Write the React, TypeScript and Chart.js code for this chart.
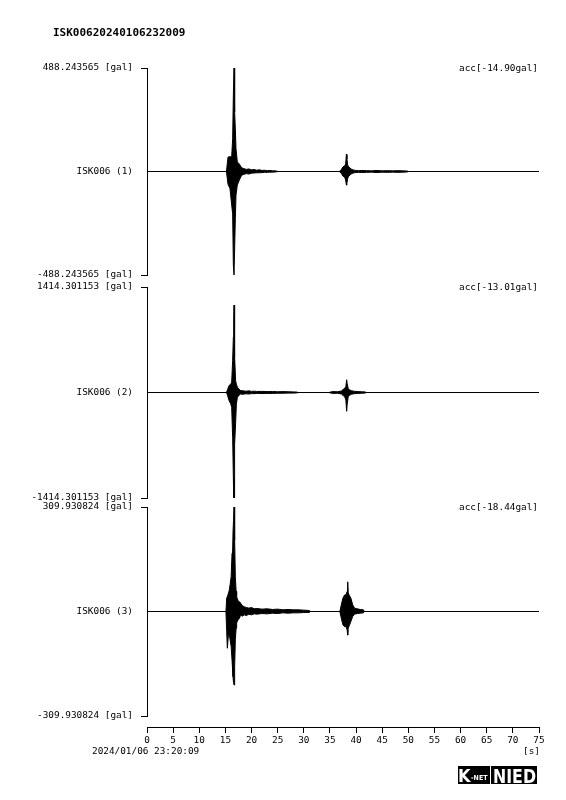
import React, { useEffect, useRef } from "react";
import { Chart, registerables } from "chart.js";

Chart.register(...registerables);

// ---------------- data ----------------
const title = "ISK00620240106232009";
const station = "ISK006";
const startTime = "2024/01/06 23:20:09";
const channelNames = ["(1)", "(2)", "(3)"];
const fullScale = [488.243565, 1414.301153, 309.930824];
const offsets = ["-14.90", "-13.01", "-18.44"];
const xMin = 0;
const xMax = 75;
const xStep = 5;

// envelope readings (seconds, gal)
const ch1Time = [
  15.2, 15.5, 15.88, 16.2, 16.39, 16.52, 16.65, 16.77, 16.9, 17.03,
  17.28, 17.67, 18.1, 18.5, 19.0, 19.5, 20.0, 20.5, 21.0, 21.5,
  22.0, 22.5, 23.0, 23.5, 24.0, 24.5, 25.2,
  36.8, 37.2, 37.5, 37.8, 38.0, 38.15, 38.25, 38.4, 38.6, 38.9,
  39.2, 39.6, 40.0, 40.5, 41.0, 42.0, 43.0, 44.0, 45.0, 46.0,
  47.0, 48.0, 49.0, 49.8, 50.0,
];
const ch1Upper = [
  0, 68, 70, 68, 155, 360, 488, 280, 200, 107,
  45, 35, 18, 14, 10, 12, 8, 9, 6, 8,
  5, 6, 4, 5, 3, 3, 0,
  0, 10, 22, 26, 35, 81, 60, 30, 22, 15,
  10, 6, 5, 4, 5, 4, 3, 5, 3, 4,
  3, 4, 3, 2, 0,
];
const ch1Lower = [
  0, -60, -81, -158, -200, -441, -488, -488, -222, -111,
  -64, -40, -18, -14, -10, -12, -8, -7, -6, -6,
  -5, -4, -4, -3, -3, -2, 0,
  0, -10, -22, -26, -40, -64, -55, -32, -22, -15,
  -10, -6, -5, -4, -5, -4, -3, -5, -3, -4,
  -3, -4, -3, -2, 0,
];

const ch2Time = [
  15.2, 15.4, 15.7, 16.0, 16.2, 16.39, 16.52, 16.6, 16.65, 16.72,
  16.8, 16.95, 17.1, 17.3, 17.6, 17.9, 18.2, 18.6, 19.0, 19.5,
  20.0, 20.5, 21.0, 22.0, 23.0, 24.0, 25.0, 26.0, 27.0, 28.0,
  28.6, 29.0,
  34.8, 35.5, 36.5, 37.2, 37.5, 37.8, 38.05, 38.2, 38.3, 38.5,
  38.8, 39.1, 39.5, 40.0, 40.5, 41.0, 41.7, 42.0,
];
const ch2Upper = [
  0, 36, 94, 110, 139, 431, 745, 1000, 1172, 900,
  476, 162, 110, 72, 45, 27, 25, 20, 18, 22,
  15, 18, 14, 15, 12, 14, 10, 12, 10, 8,
  6, 0,
  0, 12, 10, 20, 40, 54, 80, 171, 120, 50,
  35, 25, 18, 14, 12, 10, 8, 0,
];
const ch2Lower = [
  0, -36, -108, -150, -198, -602, -1141, -1414, -1414, -1320,
  -700, -418, -155, -63, -40, -18, -25, -20, -18, -20,
  -15, -16, -12, -14, -12, -12, -10, -10, -8, -8,
  -6, 0,
  0, -12, -10, -20, -40, -54, -100, -252, -160, -55,
  -35, -25, -18, -14, -12, -10, -8, 0,
];

const ch3Time = [
  15.1, 15.25, 15.37, 15.6, 15.75, 15.9, 16.1, 16.27, 16.45, 16.55,
  16.65, 16.77, 16.9, 17.05, 17.15, 17.4, 17.7, 17.9, 18.2, 18.6,
  19.0, 19.5, 20.0, 20.5, 21.0, 22.0, 23.0, 24.0, 25.0, 26.0,
  27.0, 28.0, 29.0, 30.0, 31.0, 31.3,
  36.9, 37.25, 37.5, 37.8, 38.1, 38.3, 38.4, 38.5, 38.7, 39.0,
  39.35, 39.7, 40.2, 40.8, 41.4, 41.6,
];
const ch3Upper = [
  0, 40, 44, 55, 64, 80, 103, 173, 232, 270,
  310, 212, 103, 60, 44, 32, 29, 25, 18, 14,
  12, 10, 12, 8, 9, 7, 8, 6, 7, 5,
  6, 5, 5, 4, 3, 0,
  0, 25, 40, 49, 50, 60, 88, 55, 48, 40,
  20, 10, 8, 6, 5, 0,
];
const ch3Lower = [
  0, -60, -109, -64, -70, -84, -104, -144, -193, -210,
  -218, -164, -84, -50, -34, -25, -20, -10, -14, -10,
  -12, -8, -10, -7, -8, -6, -7, -5, -6, -4,
  -5, -4, -4, -3, -3, 0,
  0, -25, -40, -45, -45, -55, -70, -50, -42, -30,
  -15, -8, -6, -5, -4, 0,
];

const channelTimes = [ch1Time, ch2Time, ch3Time];
const channelUpper = [ch1Upper, ch2Upper, ch3Upper];
const channelLower = [ch1Lower, ch2Lower, ch3Lower];

// ---------------- layout ----------------
const W = 566;
const H = 800;
const PLOT_LEFT = 147;
const PLOT_RIGHT = 539;
const PANEL_TOP = [68, 287, 507];
const PANEL_BOTTOM = [275, 498, 716];
const AXIS_Y = 727;
const MONO = "'DejaVu Sans Mono', 'Liberation Mono', monospace";
const FS = 9.4;

const panelText = {
  id: "panelText",
  afterDraw(chart: any, _args: any, opts: any) {
    const { ctx, chartArea } = chart;
    ctx.save();
    ctx.fillStyle = "#000";
    ctx.font = `${FS}px ${MONO}`;
    ctx.textAlign = "right";
    ctx.textBaseline = "middle";
    ctx.fillText(opts.label, chartArea.right - 1, chartArea.top + 1);
    if (opts.title) {
      ctx.font = `bold 11px ${MONO}`;
      ctx.textAlign = "left";
      ctx.fillText(opts.title, 53, 33);
    }
    ctx.restore();
  },
};

const footerText = {
  id: "footerText",
  afterDraw(chart: any, _args: any, opts: any) {
    const { ctx, chartArea } = chart;
    ctx.save();
    ctx.fillStyle = "#000";
    ctx.font = `${FS}px ${MONO}`;
    ctx.textBaseline = "middle";
    ctx.textAlign = "left";
    ctx.fillText(opts.date, chartArea.left - 55, chartArea.bottom + 25);
    ctx.textAlign = "right";
    ctx.fillText("[s]", chartArea.right + 1, chartArea.bottom + 25);
    // K-NET / NIED logo
    const r = chartArea.right - 2;
    const top = chartArea.bottom + 39;
    ctx.fillRect(r - 79, top, 32, 18);
    ctx.fillRect(r - 46, top, 46, 18);
    ctx.fillStyle = "#fff";
    ctx.textAlign = "left";
    ctx.textBaseline = "alphabetic";
    const sans = "'DejaVu Sans Condensed', 'DejaVu Sans', sans-serif";
    ctx.font = `bold 18px ${sans}`;
    ctx.fillText("K", r - 79, top + 16, 13);
    ctx.font = `bold 7px ${sans}`;
    ctx.fillText("-NET", r - 66, top + 14, 18);
    ctx.font = `bold 19px ${sans}`;
    ctx.fillText("NIED", r - 44, top + 17, 43);
    ctx.restore();
  },
};

function panelConfig(i: number): any {
  const A = fullScale[i];
  const times = channelTimes[i];
  const up = times.map((t, k) => ({ x: t, y: channelUpper[i][k] }));
  const low = times.map((t, k) => ({ x: t, y: channelLower[i][k] }));
  const base = [
    { x: xMin, y: 0 },
    { x: xMax, y: 0 },
  ];
  return {
    type: "line",
    data: {
      datasets: [
        { data: up, borderColor: "#000", borderWidth: 1, pointRadius: 0, fill: false, tension: 0 },
        { data: low, borderColor: "#000", borderWidth: 1, pointRadius: 0, fill: "-1", backgroundColor: "#000", tension: 0 },
        { data: base, borderColor: "#000", borderWidth: 1, pointRadius: 0, fill: false },
      ],
    },
    options: {
      animation: false,
      responsive: false,
      devicePixelRatio: 1,
      events: [],
      layout: {
        padding: { left: 0, right: W - PLOT_RIGHT, top: PANEL_TOP[i], bottom: H - PANEL_BOTTOM[i] },
      },
      plugins: {
        legend: { display: false },
        tooltip: { enabled: false },
        panelText: { label: `acc[${offsets[i]}gal]`, title: i === 0 ? title : null },
      },
      scales: {
        x: { type: "linear", min: xMin, max: xMax, display: false },
        y: {
          type: "linear",
          position: "left",
          min: -A,
          max: A,
          afterBuildTicks: (s: any) => {
            s.ticks = [{ value: -A }, { value: 0 }, { value: A }];
          },
          afterFit: (s: any) => {
            s.width = PLOT_LEFT;
          },
          ticks: {
            autoSkip: false,
            color: "#000",
            padding: 8,
            font: { family: MONO, size: FS },
            callback: (v: number) =>
              v === 0 ? `${station} ${channelNames[i]}` : `${v < 0 ? "-" : ""}${A.toFixed(6)} [gal]`,
          },
          grid: {
            drawOnChartArea: false,
            drawTicks: true,
            tickLength: 6,
            color: "#000",
            tickColor: (c: any) => (c.tick && c.tick.value === 0 ? "rgba(0,0,0,0)" : "#000"),
          },
          border: { display: true, color: "#000", width: 1 },
        },
      },
    },
    plugins: [panelText],
  };
}

function axisConfig(): any {
  return {
    type: "line",
    data: { datasets: [] },
    options: {
      animation: false,
      responsive: false,
      devicePixelRatio: 1,
      events: [],
      layout: {
        padding: { left: PLOT_LEFT, right: W - PLOT_RIGHT, top: AXIS_Y - 8, bottom: H - AXIS_Y - 40 },
      },
      plugins: {
        legend: { display: false },
        tooltip: { enabled: false },
        footerText: { date: startTime },
      },
      scales: {
        x: {
          type: "linear",
          position: "bottom",
          min: xMin,
          max: xMax,
          afterFit: (s: any) => {
            s.height = 40;
          },
          ticks: {
            stepSize: xStep,
            autoSkip: false,
            maxRotation: 0,
            color: "#000",
            padding: 2,
            font: { family: MONO, size: FS },
          },
          grid: { drawOnChartArea: false, drawTicks: true, tickLength: 6, color: "#000" },
          border: { display: true, color: "#000", width: 1 },
        },
        y: { display: false, min: 0, max: 1 },
      },
    },
    plugins: [footerText],
  };
}

export default function App() {
  const r0 = useRef<HTMLCanvasElement>(null);
  const r1 = useRef<HTMLCanvasElement>(null);
  const r2 = useRef<HTMLCanvasElement>(null);
  const r3 = useRef<HTMLCanvasElement>(null);

  useEffect(() => {
    const charts: Chart[] = [];
    [r0, r1, r2].forEach((r, i) => {
      if (r.current) charts.push(new Chart(r.current, panelConfig(i)));
    });
    if (r3.current) charts.push(new Chart(r3.current, axisConfig()));
    return () => charts.forEach((c) => c.destroy());
  }, []);

  const cs: React.CSSProperties = { position: "absolute", left: 0, top: 0, width: W, height: H };
  return (
    <div style={{ position: "absolute", left: 0, top: 0, width: W, height: H, background: "#fff" }}>
      <canvas ref={r0} width={W} height={H} style={cs} />
      <canvas ref={r1} width={W} height={H} style={cs} />
      <canvas ref={r2} width={W} height={H} style={cs} />
      <canvas ref={r3} width={W} height={H} style={cs} />
    </div>
  );
}
